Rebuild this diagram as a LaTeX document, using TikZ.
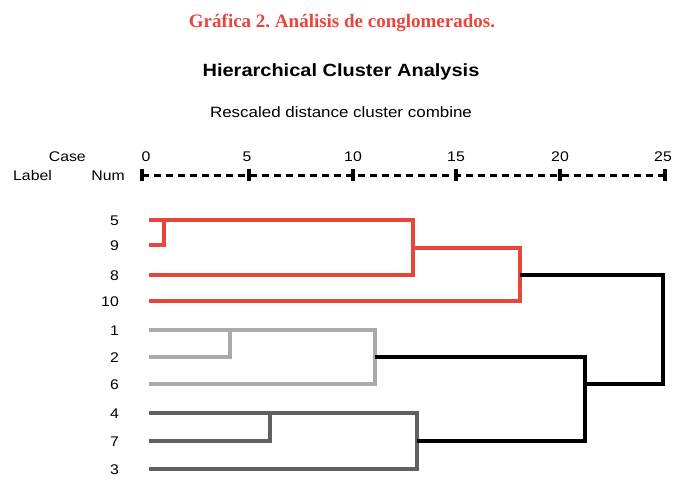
\documentclass[tikz,border=0pt]{standalone}
\usepackage{fontspec}
\setmainfont{Liberation Sans}
\newfontfamily\widesans[FakeStretch=1.13]{Liberation Sans}
\newfontfamily\titleserif{Liberation Serif}
\definecolor{cred}{HTML}{E8453C}
\definecolor{clight}{HTML}{AAAAAA}
\definecolor{cdark}{HTML}{606060}
\frenchspacing
\begin{document}
\begin{tikzpicture}[x=1pt,y=-1pt,
  txt/.style={inner sep=0pt,font=\widesans\fontsize{14}{16}\selectfont},
  leaf/.style={txt,anchor=east},
  br/.style={line width=3.6pt,line join=miter,line cap=butt},
  redbr/.style={br,draw=cred},
  lightbr/.style={br,draw=clight},
  darkbr/.style={br,draw=cdark},
  blackbr/.style={br,draw=black},
  tickmark/.style={line width=3.4pt}]
\useasboundingbox (0,0) rectangle (684,491);
\fill[white] (0,0) rectangle (684,491);
% titles
\node[inner sep=0pt,anchor=base,text=cred,font=\titleserif\bfseries\fontsize{19}{21}\selectfont] (title) at (342,27) {Gráfica 2. Análisis de conglomerados.};
\node[inner sep=0pt,anchor=base,font=\widesans\bfseries\fontsize{17.7}{20}\selectfont] (sub) at (341,76) {Hierarchical Cluster Analysis};
\node[inner sep=0pt,anchor=base,font=\widesans\fontsize{15}{17}\selectfont] (resc) at (341,117) {Rescaled distance cluster combine};
% axis header
\node[txt,anchor=base east] (case) at (86,161) {Case};
\node[txt,anchor=base west] (lab) at (13,180) {Label};
\node[txt,anchor=base east] (num) at (125,180) {Num};
\foreach \v/\xx in {0/146,5/247,10/353,15/456,20/560,25/663}{
  \node[txt,anchor=base] (n\v) at (\xx,161) {\v};
}
% axis
\coordinate (a0) at (142,175);
\coordinate (a25) at (665,175);
\draw[line width=3pt,dash pattern=on 7pt off 5pt] (a0) -- (a25);
\foreach \xx in {142,249,353,456,560,665}{
  \draw[tickmark] (\xx,169) -- (\xx,181);
}
% leaf labels and leaf starts
\foreach \c/\yy in {5/220,9/245,8/275,10/301,1/330,2/357,6/384,4/413,7/441,3/469}{
  \node[leaf] (lab\c) at (119,\yy+1) {\c};
  \coordinate (l\c) at (149,\yy);
}
% join coordinates
\coordinate (j59t) at (164,220);  \coordinate (j59b) at (164,245);
\coordinate (j598t) at (413,220); \coordinate (j598b) at (413,275);
\coordinate (j598m) at (413,248);
\coordinate (jrt) at (520,248);   \coordinate (jrb) at (520,301);
\coordinate (jrm) at (520,275);
\coordinate (j12t) at (230,330);  \coordinate (j12b) at (230,357);
\coordinate (j126t) at (375,330); \coordinate (j126b) at (375,384);
\coordinate (j126m) at (375,357);
\coordinate (j47t) at (270,413);  \coordinate (j47b) at (270,441);
\coordinate (j473t) at (417,413); \coordinate (j473b) at (417,469);
\coordinate (j473m) at (417,441);
\coordinate (jgt) at (585,357);   \coordinate (jgb) at (585,441);
\coordinate (jgm) at (585,384);
\coordinate (jat) at (663,275);   \coordinate (jab) at (663,384);
% red cluster
\draw[redbr] (l5) -- (j598t) -- (j598b) -- (l8);
\draw[redbr] (j59t) -- (j59b) -- (l9);
\draw[redbr] (j598m) -- (jrt) -- (jrb) -- (l10);
% light grey cluster
\draw[lightbr] (l1) -- (j126t) -- (j126b) -- (l6);
\draw[lightbr] (j12t) -- (j12b) -- (l2);
% dark grey cluster
\draw[darkbr] (l4) -- (j473t) -- (j473b) -- (l3);
\draw[darkbr] (j47t) -- (j47b) -- (l7);
% black links
\draw[blackbr] (j126m) -- (jgt) -- (jgb) -- (j473m);
\draw[blackbr] (jrm) -- (jat) -- (jab) -- (jgm);
\end{tikzpicture}
\end{document}
